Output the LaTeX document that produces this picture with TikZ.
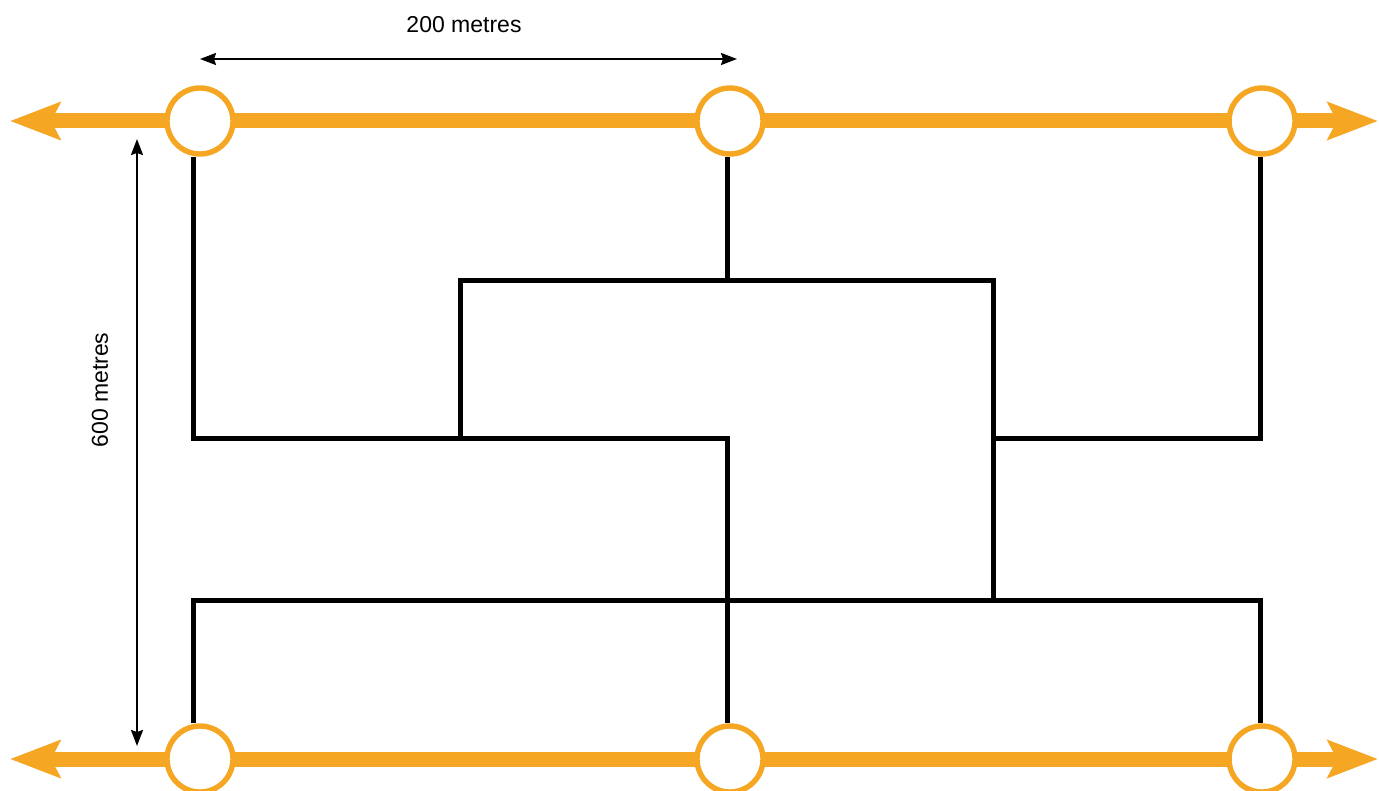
\documentclass[tikz,border=0pt]{standalone}
\usepackage{fontspec}
\setmainfont{Liberation Sans}
\usepackage{xcolor}
\usetikzlibrary{arrows, arrows.meta, backgrounds}
\definecolor{roadorange}{HTML}{F5A623}
\tikzset{
roadMe/.style={line width=7.5pt, color=roadorange,
    {Stealth[length=25pt,width=18.5pt,inset=4.5pt]}-{Stealth[length=25pt,width=18.5pt,inset=4.5pt]}
    }}

\begin{document}
\begin{tikzpicture}[x=0.5pt,y=-0.5pt]
		\tikzset{station/.style = {shape=circle, draw=roadorange, line width=2.7pt, fill=white, minimum size=33pt, inner sep=0pt}}
		\tikzset{wire/.style = {line width=2.5pt, line join=miter}}
		\tikzset{dim/.style = {line width=1pt, {Stealth[length=8pt,width=6pt,inset=1pt]}-{Stealth[length=8pt,width=6pt,inset=1pt]}}}
		\tikzset{label/.style = {font=\fontsize{11.5}{14}\selectfont}}
		\useasboundingbox (0,0) rectangle (1379,791);

		\node[station] (T_1) at (200,121) {};
		\node[station] (T_2) at (730,121) {};
		\node[station] (T_3) at (1262,121) {};
		\node[station] (B_1) at (200,759) {};
		\node[station] (B_2) at (730,759) {};
		\node[station] (B_3) at (1262,759) {};

		\coordinate (TL) at (10,121);
		\coordinate (TR) at (1378,121);
		\coordinate (BL) at (10,759);
		\coordinate (BR) at (1378,759);

		\coordinate (J_1) at (193,438);
		\coordinate (J_2) at (460,438);
		\coordinate (J_3) at (727,438);
		\coordinate (J_4) at (993,438);
		\coordinate (J_5) at (1260,438);
		\coordinate (K_1) at (460,280);
		\coordinate (K_2) at (727,280);
		\coordinate (K_3) at (993,280);
		\coordinate (M_1) at (193,600);
		\coordinate (M_2) at (727,600);
		\coordinate (M_3) at (993,600);
		\coordinate (M_4) at (1260,600);

		\begin{pgfonlayer}{background}
		\draw[roadMe] (TL) -- (TR);
		\draw[roadMe] (BL) -- (BR);

		\draw[wire] (T_1.south -| J_1) -- (J_1) -- (J_3) -- (B_2.north -| J_3);
		\draw[wire] (T_2.south -| K_2) -- (K_2);
		\draw[wire] (J_2) -- (K_1) -- (K_3) -- (M_3);
		\draw[wire] (T_3.south -| J_5) -- (J_5) -- (J_4);
		\draw[wire] (B_1.north -| M_1) -- (M_1) -- (M_4) -- (B_3.north -| M_4);
		\end{pgfonlayer}

		% dimensions
		\coordinate (D_1) at (200,59);
		\coordinate (D_2) at (737,59);
		\coordinate (D_3) at (137,139);
		\coordinate (D_4) at (137,746);
		\draw[dim] (D_1) -- (D_2);
		\draw[dim] (D_3) -- (D_4);
		\node[label] (W) at (464,25) {200 metres};
		\node[label, rotate=90] (H) at (100,390) {600 metres};
	\end{tikzpicture}
\end{document}
